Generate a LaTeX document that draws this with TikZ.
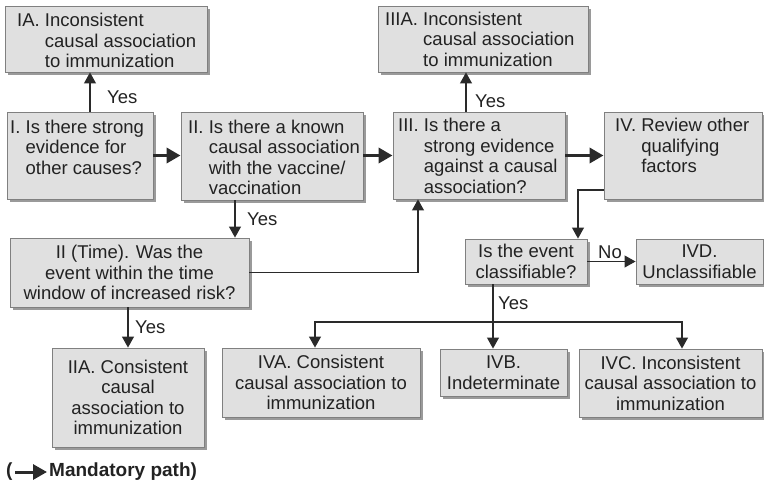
\documentclass[tikz,border=0pt]{standalone}
\usepackage{fontspec}
\setmainfont{Liberation Sans}
\usetikzlibrary{arrows.meta,shadows}
\definecolor{boxfill}{HTML}{E0E0E0}
\definecolor{boxline}{HTML}{808080}
\definecolor{shadowc}{HTML}{9A9A9A}
\definecolor{ink}{HTML}{222222}
\definecolor{linec}{HTML}{2A2A2A}
\newcommand\fsz{\fontsize{18.5}{20.5}\selectfont}
\newcommand\hang[2]{\begin{tabular}[t]{@{}l@{ }l@{}}#1&#2\end{tabular}}
\begin{document}
\begin{tikzpicture}[x=1pt,y=-1pt,
  box/.style={draw=boxline, line width=0.9pt, fill=boxfill, inner sep=0pt,
    general shadow={fill=shadowc, shadow xshift=3pt, shadow yshift=-3pt},
    text=ink, font=\fsz, align=center},
  txt/.style={inner sep=0pt, text=ink, font=\fsz, anchor=base west},
  lbl/.style={inner sep=0pt, text=ink, font=\fsz, anchor=west},
  arr/.style={draw=linec, line width=1.1pt, -{Triangle[length=11pt,width=12pt]}},
  mand/.style={draw=linec, line width=3.5pt, -{Triangle[length=14pt,width=15pt]}}
]
\useasboundingbox (0,0) rectangle (764,480);

% boxes
\node[box, minimum width=202pt, minimum height=66pt] (IA) at (106,39) {};
\node[box, minimum width=146pt, minimum height=87pt] (I) at (80,155.5) {};
\node[box, minimum width=182pt, minimum height=88pt] (II) at (272,156) {};
\node[box, minimum width=210pt, minimum height=66pt] (IIIA) at (483,39) {};
\node[box, minimum width=172pt, minimum height=87pt] (III) at (479,155.5) {};
\node[box, minimum width=158pt, minimum height=87pt] (IV) at (683,155.5) {};
\node[box, minimum width=239pt, minimum height=69pt] (IIT) at (129.5,272.5) {II (Time). Was the\\event within the time\\window of increased risk?};
\node[box, minimum width=152pt, minimum height=99pt] (IIA) at (128,397.5) {IIA. Consistent\\causal\\association to\\immunization};
\node[box, minimum width=198pt, minimum height=69pt] (IVA) at (321,382.5) {IVA. Consistent\\causal association to\\immunization};
\node[box, minimum width=127pt, minimum height=47pt] (IVB) at (503.5,372.5) {IVB.\\Indeterminate};
\node[box, minimum width=183pt, minimum height=68pt] (IVC) at (670.5,383) {IVC. Inconsistent\\causal association to\\immunization};
\node[box, minimum width=122pt, minimum height=45pt] (CL) at (526,261.5) {Is the event\\classifiable?};
\node[box, minimum width=127pt, minimum height=45pt] (IVD) at (699.5,261.5) {IVD.\\Unclassifiable};

% hanging texts
\node[txt] (tIA) at (17,26.5) {\hang{IA.}{Inconsistent\\&causal association\\&to immunization}};
\node[txt] (tI) at (10,133) {\hang{I.}{Is there strong\\&evidence for\\&other causes?}};
\node[txt] (tII) at (188,133) {\hang{II.}{Is there a known\\&causal association\\&with the vaccine/\\&vaccination}};
\node[txt] (tIIIA) at (385,25) {\hang{IIIA.}{Inconsistent\\&causal association\\&to immunization}};
\node[txt] (tIII) at (398,131.5) {\hang{III.}{Is there a\\&strong evidence\\&against a causal\\&association?}};
\node[txt] (tIV) at (615,131.5) {\hang{IV.}{Review other\\&qualifying\\&factors}};

% mandatory path
\draw[mand] (I.east) -- (I.east -| II.west);
\draw[mand] (II.east |- I.east) -- (I.east -| III.west);
\draw[mand] (III.east) -- (III.east -| IV.west);

% yes/no connectors
\draw[arr] ([xshift=10pt]I.north) -- ([xshift=10pt]I.north |- IA.south);
\node[lbl] (y1) at (107,97) {Yes};
\draw[arr] ([xshift=-13pt]III.north) -- ([xshift=-13pt]III.north |- IIIA.south);
\node[lbl] (y2) at (475,101) {Yes};
\draw[arr] ([xshift=-37pt]II.south) -- ([xshift=-37pt]II.south |- IIT.north);
\node[lbl] (y3) at (247,219) {Yes};
\draw[arr] (IIT.east) -| ([xshift=-61pt]III.south);
\draw[arr] (IIT.south -| IIA.north) -- (IIA.north);
\node[lbl] (y4) at (135,327) {Yes};
\draw[arr] ([yshift=-34.5pt]IV.west) -| ([xshift=52pt]CL.north);
\draw[arr] (CL.east) -- (IVD.west);
\node[lbl] (n1) at (598,252) {No};
\draw[arr] ([xshift=-33pt]CL.south) -- ([xshift=-33pt]CL.south |- IVB.north);
\node[lbl] (y5) at (498,303) {Yes};
\coordinate (br) at (493,322);
\draw[arr] (br) -| ([xshift=-6pt]IVA.north);
\draw[arr] (br) -| ([xshift=11.5pt]IVC.north);

% legend
\node[lbl, font=\fontsize{19}{21}\selectfont\bfseries] (lp) at (6,472) {(};
\coordinate (la) at (15,472);
\coordinate (lb) at (47,472);
\draw[mand, line width=3pt] (la) -- (lb);
\node[lbl, font=\fontsize{19}{21}\selectfont\bfseries] (lt) at (49,472) {Mandatory path)};
\end{tikzpicture}
\end{document}
